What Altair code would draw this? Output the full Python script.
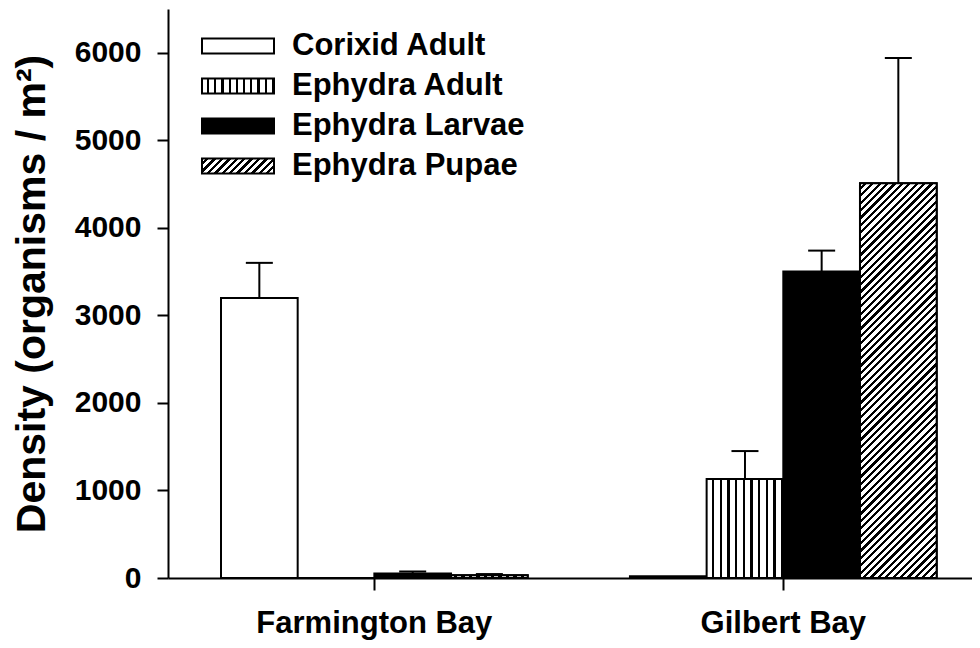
import altair as alt
import pandas as pd

# ---------------- data ----------------
sites = ["Farmington Bay", "Gilbert Bay"]
species = ["Corixid Adult", "Ephydra Adult", "Ephydra Larvae", "Ephydra Pupae"]
farmington_mean = [3200, 0, 50, 30]
farmington_se = [400, 0, 25, 15]
gilbert_mean = [20, 1130, 3500, 4510]
gilbert_se = [0, 320, 240, 1430]
y_ticks = [0, 1000, 2000, 3000, 4000, 5000, 6000]

rows = []
for site, means, ses in [(sites[0], farmington_mean, farmington_se),
                         (sites[1], gilbert_mean, gilbert_se)]:
    for sp, m, s in zip(species, means, ses):
        rows.append({"site": site, "species": sp, "mean": m, "se": s, "upper": m + s})
df = pd.DataFrame(rows)

# ---------------- layout / style ----------------
W, H = 804, 569
Y_MAX = 6500
P_IN, P_OUT, ALIGN = 0.25, 0.108, 0.6
step = W / (len(sites) - P_IN + 2 * P_OUT)
bar_w = step * (1 - P_IN) / len(species)
FONT = "Liberation Sans"


def band_stops(d, frac_black):
    """alternating white/black stops with period d (in gradient units)"""
    stops = []
    k = 0
    while k * d < 1:
        a = k * d
        b = min(1.0, a + d * (1 - frac_black))
        c = min(1.0, a + d)
        stops += [(a, "white"), (b, "white"), (b, "black"), (c, "black")]
        k += 1
    return [{"offset": round(o, 5), "color": c} for o, c in stops]


def stripes_gradient(n=10, frac_black=0.3):
    return {"gradient": "linear", "x1": 0, "y1": 0, "x2": 1, "y2": 0,
            "stops": band_stops(1.0 / n, frac_black)}


def hatch_gradient(w, h, period=7.4, frac_black=0.45):
    r = h / w
    s = (1 + r) / (1 + r * r)
    return {"gradient": "linear", "x1": 0, "y1": 0,
            "x2": round(s, 6), "y2": round(s * r, 6),
            "stops": band_stops(period / (w + h), frac_black)}


def to_expr(g):
    stops = ",".join("{offset:%s,color:'%s'}" % (st["offset"], st["color"]) for st in g["stops"])
    return "{gradient:'linear',x1:%s,y1:%s,x2:%s,y2:%s,stops:[%s]}" % (
        g["x1"], g["y1"], g["x2"], g["y2"], stops)


LEG_W, LEG_H = 72, 15
legend_fills = [
    {"expr": "'white'"},
    {"expr": to_expr(stripes_gradient(10, 0.3))},
    {"expr": "'black'"},
    {"expr": to_expr(hatch_gradient(LEG_W, LEG_H))},
]
half = LEG_H / LEG_W
symbol_path = "M-1,-%.4fH1V%.4fH-1Z" % (half, half)

x_enc = alt.X("site:N", sort=sites,
              scale=alt.Scale(domain=sites, paddingInner=P_IN, paddingOuter=P_OUT, align=ALIGN),
              axis=alt.Axis(title=None, labelAngle=0, domainColor="black", domainWidth=2,
                            tickColor="black", tickWidth=2, tickSize=12,
                            labelFont=FONT, labelFontWeight="bold", labelFontSize=31,
                            labelColor="black", labelPadding=18, labelLimit=500))
xo_enc = alt.XOffset("species:N", sort=species,
                     scale=alt.Scale(domain=species, paddingInner=0, paddingOuter=0))
y_enc = alt.Y("mean:Q", scale=alt.Scale(domain=[0, Y_MAX], nice=False),
              axis=alt.Axis(values=y_ticks, format="d", grid=False,
                            domainColor="black", domainWidth=2,
                            tickColor="black", tickWidth=2, tickSize=11,
                            labelFont=FONT, labelFontWeight="bold", labelFontSize=30,
                            labelColor="black", labelPadding=16,
                            title="Density (organisms / m²)", titleFont=FONT,
                            titleFontWeight="bold", titleFontSize=41, titleColor="black",
                            titlePadding=21))

base = alt.Chart(df)

bars = base.mark_bar(stroke="black", strokeWidth=2).encode(
    x=x_enc, xOffset=xo_enc, y=y_enc,
    fill=alt.Fill("species:N", sort=species,
                  scale=alt.Scale(domain=species, range=legend_fills),
                  legend=alt.Legend(title=None, orient="none", legendX=33, legendY=22,
                                    symbolType=symbol_path, symbolSize=LEG_W * LEG_W,
                                    symbolStrokeColor="black", symbolStrokeWidth=2,
                                    symbolOpacity=1, clipHeight=30,
                                    labelFont=FONT, labelFontWeight="bold",
                                    labelFontSize=31, labelColor="black",
                                    labelLimit=400, labelOffset=17, rowPadding=9,
                                    padding=0)),
)

overlays = []
for site, means in [(sites[0], farmington_mean), (sites[1], gilbert_mean)]:
    h = max(1.0, means[3] / Y_MAX * H)
    g = hatch_gradient(bar_w, h)
    overlays.append(
        base.transform_filter(
            (alt.datum.site == site) & (alt.datum.species == species[3])
        ).mark_bar(stroke="black", strokeWidth=2, fill=g).encode(
            x=x_enc, xOffset=xo_enc, y=y_enc)
    )

err = base.transform_filter("datum.se > 0").mark_rule(color="black", strokeWidth=2).encode(
    x=x_enc, xOffset=xo_enc, y=y_enc, y2="upper:Q")
cap = base.transform_filter("datum.se > 0").mark_tick(
    color="black", thickness=2, size=27, orient="horizontal", opacity=1).encode(
    x=x_enc, xOffset=xo_enc, y=alt.Y("upper:Q", scale=alt.Scale(domain=[0, Y_MAX], nice=False)))

chart = alt.layer(bars, *overlays, err, cap).properties(
    width=W, height=H,
    autosize=alt.AutoSizeParams(type="none"),
    padding={"left": 160, "top": 1, "right": 0, "bottom": 68},
).configure_view(stroke=None)

chart.save("out.html", embed_options={"renderer": "svg", "actions": False})
